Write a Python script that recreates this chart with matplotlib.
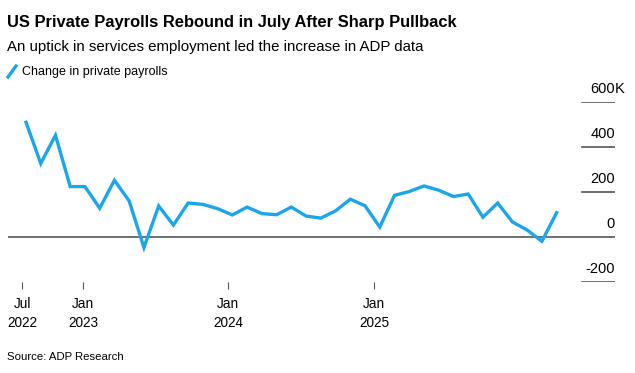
import matplotlib
matplotlib.use("Agg")
import matplotlib.pyplot as plt
from matplotlib.lines import Line2D
import matplotlib.transforms as mtransforms

plt.rcParams['font.family'] = ['Liberation Sans', 'DejaVu Sans']

# monthly change in private payrolls, thousands, Jul 2022 .. Jul 2025
payrolls = [510, 327, 452, 224, 224, 128, 252, 160, -47, 138, 53, 151,
            145, 126, 98, 133, 104, 99, 133, 93, 84, 116, 168, 139,
            44, 185, 202, 227, 208, 180, 191, 88, 151, 67, 31, -19, 108]
months = list(range(len(payrolls)))

tick_pos = [-0.27, 3.87, 13.73, 23.63]
tick_labels = ["Jul\n2022", "Jan\n2023", "Jan\n2024", "Jan\n2025"]
y_levels = [600, 400, 200, 0, -200]
y_labels = ["600", "400", "200", "0", "-200"]

W, H = 635, 373
blue = "#1ba6ea"
grey = "#555555"

fig = plt.figure(figsize=(W / 100, H / 100), dpi=100)
ax = fig.add_axes([8 / W, 1 - 282 / H, (615 - 8) / W, (282 - 102) / H])

ax.plot(months, payrolls, color=blue, lw=2.4, solid_joinstyle='miter', zorder=3)

ax.set_xlim((8 - 26) / 14.74, (615 - 26) / 14.74)
ax.set_ylim(-200, 600)

# zero line full width, short grid stubs under the labels
ax.axhline(0, color=grey, lw=1.2, zorder=2)
gx = (582 - 8) / (615 - 8)
for v in y_levels:
    if v != 0:
        ax.axhline(v, xmin=gx, xmax=1, color=grey, lw=1.2)

tr = mtransforms.blended_transform_factory(ax.transAxes, ax.transData)
for v, lab in zip(y_levels, y_labels):
    ax.annotate(lab, (1.0, v), xycoords=tr, xytext=(0, 4), textcoords='offset points',
                ha='right', va='bottom', fontsize=10.5, color='black')
ax.annotate("K", (1.0, 600), xycoords=tr, xytext=(0, 4), textcoords='offset points',
            ha='left', va='bottom', fontsize=10.5, color='black')

for s in ax.spines.values():
    s.set_visible(False)
ax.set_yticks([])
ax.set_xticks(tick_pos)
ax.set_xticklabels(tick_labels, fontsize=9.8, linespacing=1.42)
ax.tick_params(axis='x', direction='out', length=5, width=0.8, color=grey, pad=6)

fig.text(7 / W, 1 - 27 / H, "US Private Payrolls Rebound in July After Sharp Pullback",
         fontsize=11.9, fontweight='bold', ha='left', va='baseline')
fig.text(7 / W, 1 - 51 / H, "An uptick in services employment led the increase in ADP data",
         fontsize=10.8, ha='left', va='baseline')
fig.add_artist(Line2D([8 / W, 16 / W], [1 - 77 / H, 1 - 66 / H], color=blue, lw=2.4))
fig.text(22 / W, 1 - 72 / H, "Change in private payrolls", fontsize=9, ha='left', va='center')
fig.text(7 / W, 1 - 357 / H, "Source: ADP Research", fontsize=8.2, ha='left', va='center')

fig.savefig("out.png", dpi=100)
